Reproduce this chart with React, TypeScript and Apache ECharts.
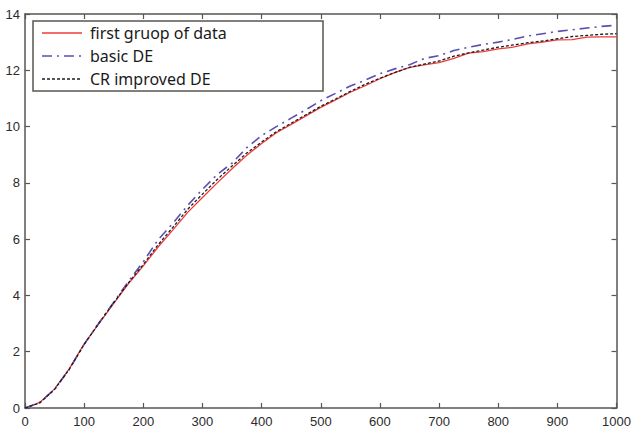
import React, { useEffect, useRef } from "react";
import * as echarts from "echarts";

const xs = [0, 25, 50, 75, 100, 125, 150, 175, 200, 225, 250, 275, 300, 325, 350, 375, 400, 425, 450, 475, 500, 525, 550, 575, 600, 625, 650, 675, 700, 725, 750, 775, 800, 825, 850, 875, 900, 925, 950, 975, 1000];

const firstGroup = [0, 0.2, 0.68, 1.4, 2.28, 3.0, 3.72, 4.42, 5.05, 5.72, 6.33, 6.95, 7.48, 8.0, 8.5, 8.98, 9.4, 9.78, 10.08, 10.38, 10.68, 10.95, 11.22, 11.45, 11.7, 11.92, 12.1, 12.19, 12.27, 12.42, 12.61, 12.66, 12.76, 12.82, 12.94, 13.0, 13.08, 13.09, 13.18, 13.19, 13.19];

const basicDE = [0, 0.2, 0.66, 1.38, 2.26, 3.02, 3.76, 4.5, 5.2, 5.98, 6.56, 7.2, 7.77, 8.3, 8.7, 9.25, 9.68, 10.0, 10.3, 10.6, 10.92, 11.18, 11.44, 11.65, 11.88, 12.05, 12.2, 12.42, 12.52, 12.7, 12.82, 12.92, 13.0, 13.1, 13.22, 13.3, 13.38, 13.44, 13.5, 13.56, 13.6];

const crImprovedDE = [0, 0.18, 0.66, 1.38, 2.26, 3.02, 3.74, 4.45, 5.1, 5.8, 6.42, 7.06, 7.6, 8.12, 8.6, 9.06, 9.45, 9.82, 10.12, 10.42, 10.72, 10.98, 11.25, 11.5, 11.72, 11.92, 12.1, 12.22, 12.33, 12.5, 12.62, 12.72, 12.82, 12.9, 12.98, 13.04, 13.12, 13.2, 13.24, 13.28, 13.3];

const seriesNames = ["first gruop of data", "basic DE", "CR improved DE"];
const seriesColors = ["#f03a3a", "#5a4fb2", "#1e1e1e"];
const seriesWidths = [1.3, 1.6, 1.3];
const seriesDash: (number[] | null)[] = [null, [10, 5, 2, 5], [3, 2]];

const AXIS_COLOR = "#5a5550";
const LABEL_COLOR = "#2b2b2b";

export default function App() {
  const ref = useRef<HTMLDivElement>(null);

  useEffect(() => {
    if (!ref.current) return;
    const chart = echarts.init(ref.current, undefined, { renderer: "svg" });
    const pair = (ys: number[]) => xs.map((x, i) => [x, ys[i]]);
    const allSeries = [firstGroup, basicDE, crImprovedDE];

    const axisCommon = {
      type: "value" as const,
      axisLine: { show: true, onZero: false, lineStyle: { color: AXIS_COLOR, width: 1.5 } },
      axisTick: { show: true, inside: true, length: 5, lineStyle: { color: AXIS_COLOR, width: 1.2 } },
      splitLine: { show: false },
    };

    const legendRows = [33, 56, 79];
    const legendGraphic: any[] = [
      {
        type: "rect",
        shape: { x: 33, y: 21, width: 290, height: 70 },
        style: { fill: "#ffffff", stroke: AXIS_COLOR, lineWidth: 1.5 },
        z: 100,
      },
    ];
    seriesNames.forEach((name, i) => {
      legendGraphic.push({
        type: "line",
        shape: { x1: 42, y1: legendRows[i], x2: 82, y2: legendRows[i] },
        style: {
          stroke: seriesColors[i],
          lineWidth: seriesWidths[i],
          lineDash: seriesDash[i] || undefined,
        },
        z: 101,
      });
      legendGraphic.push({
        type: "text",
        x: 90,
        y: legendRows[i],
        style: {
          text: name,
          fill: "#1a1a1a",
          font: "16px 'Noto Sans'",
          verticalAlign: "middle",
          align: "left",
        },
        z: 101,
      });
    });

    chart.setOption({
      animation: false,
      backgroundColor: "#ffffff",
      grid: { left: 25, right: 15, top: 14, bottom: 23, containLabel: false },
      graphic: legendGraphic,
      xAxis: [
        {
          ...axisCommon,
          position: "bottom",
          min: 0,
          max: 1000,
          interval: 100,
          axisLabel: {
            show: true,
            margin: 7,
            fontFamily: "Liberation Sans",
            fontSize: 13,
            color: LABEL_COLOR,
            formatter: (v: number) => String(v),
          },
        },
        {
          ...axisCommon,
          position: "top",
          min: 0,
          max: 1000,
          interval: 100,
          axisLabel: { show: false },
        },
      ],
      yAxis: [
        {
          ...axisCommon,
          position: "left",
          min: 0,
          max: 14,
          interval: 2,
          axisLabel: {
            show: true,
            margin: 5,
            fontFamily: "Liberation Sans",
            fontSize: 13,
            color: LABEL_COLOR,
            formatter: (v: number) => String(v),
          },
        },
        {
          ...axisCommon,
          position: "right",
          min: 0,
          max: 14,
          interval: 2,
          axisLabel: { show: false },
        },
      ],
      series: seriesNames.map((name, i) => ({
        name,
        type: "line",
        xAxisIndex: 0,
        yAxisIndex: 0,
        data: pair(allSeries[i]),
        symbol: "none",
        lineStyle: {
          color: seriesColors[i],
          width: seriesWidths[i],
          type: seriesDash[i] || "solid",
        },
        itemStyle: { color: seriesColors[i] },
      })),
    });

    return () => chart.dispose();
  }, []);

  return (
    <div
      ref={ref}
      style={{ position: "fixed", left: 0, top: 0, width: 634, height: 431, background: "#fff" }}
    />
  );
}
